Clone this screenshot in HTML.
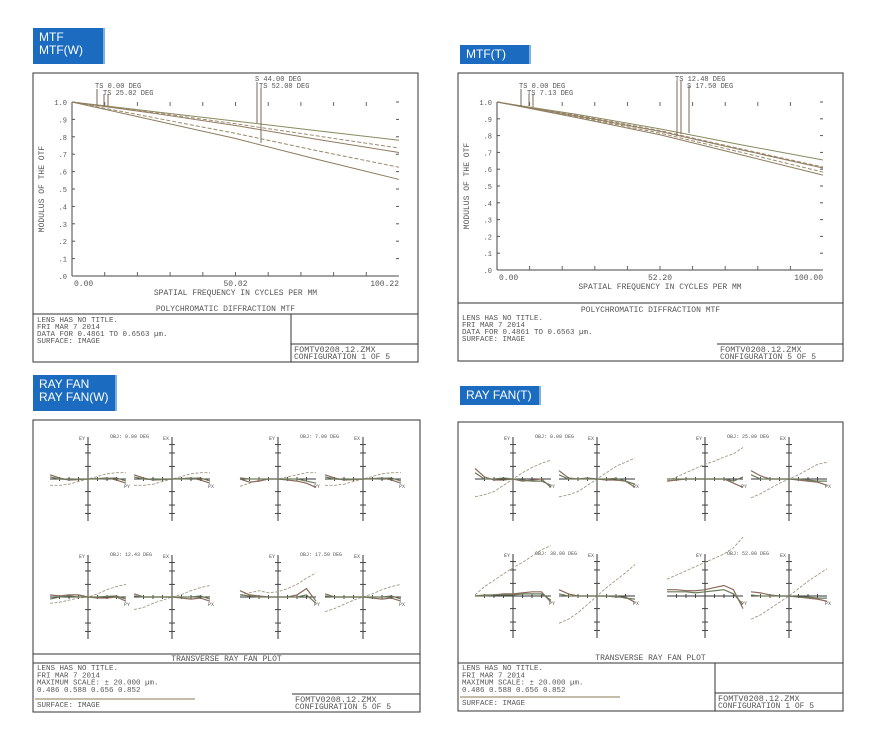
<!DOCTYPE html>
<html><head><meta charset="utf-8">
<style>
html,body{margin:0;padding:0;background:#fff;}
body{width:892px;height:735px;position:relative;overflow:hidden;font-family:"Liberation Sans",sans-serif;}
.lbl{position:absolute;background:#1b6cc0;color:#fff;font-size:12px;line-height:13px;padding:3px 6px;box-sizing:border-box;border-right:2px solid #7fb0e0;}
svg{position:absolute;left:0;top:0;}
svg text{font-family:"Liberation Mono",monospace;fill:#555;}
</style></head>
<body>
<div class="lbl" style="left:33px;top:28px;width:72px;height:36px;">MTF<br>MTF(W)</div>
<div class="lbl" style="left:460px;top:45px;width:71px;height:19px;">MTF(T)</div>
<div class="lbl" style="left:33px;top:375px;width:84px;height:36px;">RAY FAN<br>RAY FAN(W)</div>
<div class="lbl" style="left:460px;top:386px;width:81px;height:19px;">RAY FAN(T)</div>
<svg id="s" width="892" height="735"></svg>
<script>
// ---- MTF data (frequency samples, values) ----
const mtfFreq = [0, 25, 50, 75, 100];
const mtfW1 = [1.0, 0.945, 0.89, 0.835, 0.78];
const mtfW2 = [1.0, 0.94, 0.875, 0.805, 0.735];
const mtfW3 = [1.0, 0.935, 0.865, 0.785, 0.71];
const mtfW4 = [1.0, 0.91, 0.82, 0.72, 0.625];
const mtfW5 = [1.0, 0.895, 0.79, 0.67, 0.555];
const mtfT1 = [1.0, 0.925, 0.84, 0.745, 0.655];
const mtfT2 = [1.0, 0.92, 0.83, 0.72, 0.613];
const mtfT3 = [1.0, 0.915, 0.825, 0.715, 0.607];
const mtfT4 = [1.0, 0.91, 0.815, 0.70, 0.583];
const mtfT5 = [1.0, 0.905, 0.805, 0.685, 0.565];
const mtfYTicks = ["1.0",".9",".8",".7",".6",".5",".4",".3",".2",".1",".0"];
// ---- Ray fan data: pupil samples, and 3 series per sub-plot (fraction of half-scale) ----
const pupil = [-1, -0.75, -0.5, -0.25, 0, 0.25, 0.5, 0.75, 1];
const fanW1 = [[-0.3,-0.3,-0.25,-0.12,0,0.12,0.25,0.3,0.3],[0.2,0.05,-0.05,-0.03,0,0.02,0.05,-0.05,-0.2],[0.1,0,-0.03,0,0,0,0.03,0.05,-0.1]];
const fanW2 = [[-0.3,-0.3,-0.25,-0.12,0,0.12,0.25,0.3,0.3],[0.2,0.05,-0.05,-0.03,0,0.02,0.05,-0.05,-0.2],[0.1,0,-0.03,0,0,0,0.03,0.05,-0.1]];
const fanW3 = [[-0.35,-0.2,-0.05,0,0,0.1,0.2,0.3,0.3],[0,-0.15,-0.1,0,0,-0.05,-0.1,-0.2,-0.4],[0.05,0,0,0,0,0,0,-0.1,-0.2]];
const fanW4 = [[-0.3,-0.3,-0.25,-0.12,0,0.12,0.25,0.3,0.3],[0.2,0.05,-0.05,-0.03,0,0.02,0.05,-0.05,-0.2],[0.1,0,-0.03,0,0,0,0.03,0.05,-0.1]];
const fanW5 = [[-0.3,-0.25,-0.15,-0.05,0,0.15,0.35,0.5,0.6],[0.1,0.05,0.1,0.1,0,-0.05,-0.05,0,-0.2],[-0.1,0,0.05,0,0,0,0.03,0.05,-0.1]];
const fanW6 = [[-0.6,-0.5,-0.3,-0.15,0,0.12,0.3,0.45,0.55],[0.15,0,0,0,0,-0.05,-0.1,-0.05,-0.2],[0.05,0,0,0,0,0,0,0.05,-0.1]];
const fanW7 = [[0.1,0.2,0.3,0.2,0.25,0.4,0.6,0.9,1.15],[0.3,0.1,0.05,0,0,0,0.1,0.4,-0.2],[0.1,0.05,0,0,0,0,0,0.1,-0.3]];
const fanW8 = [[-0.7,-0.55,-0.35,-0.15,0,0.15,0.35,0.5,0.6],[0.15,0,0,0,0,-0.05,-0.1,-0.05,-0.2],[0.05,0,0,0,0,0,0,0.05,-0.1]];
const fanT1 = [[-0.85,-0.75,-0.6,-0.3,0,0.3,0.55,0.75,0.9],[0.5,0.1,-0.05,-0.05,0,-0.1,-0.05,0,-0.4],[0.3,0,0,0.05,0,-0.05,-0.1,-0.1,-0.3]];
const fanT2 = [[-0.85,-0.75,-0.6,-0.3,0,0.3,0.6,0.8,1.0],[0.4,0.05,0,0.05,0,-0.05,-0.05,-0.1,-0.4],[0.2,0,0,0,0,0,0.03,-0.1,-0.25]];
const fanT3 = [[-0.1,0.1,0.3,0.5,0.7,0.85,1.05,1.2,1.5],[-0.1,-0.05,0,0,0,0,0,-0.2,-0.4],[0,0,0,0,0,0,0,-0.1,0.1]];
const fanT4 = [[-0.9,-0.7,-0.45,-0.2,0,0.2,0.45,0.7,0.8],[0.4,0.15,0,0,0,-0.05,-0.1,-0.15,-0.3],[0.2,0,0,0,0,0,-0.05,-0.1,-0.1]];
const fanT5 = [[0.05,0.45,0.75,1.05,1.35,1.6,1.9,2.2,2.4],[0,0.05,0.05,0.1,0.1,0.15,0.2,0.2,-0.3],[0,0,0.05,0.05,0.05,0.1,0.1,0.1,-0.2]];
const fanT6 = [[-1.3,-1.1,-0.8,-0.4,0,0.4,0.75,1.1,1.5],[0.3,0.1,0,0,0,0,-0.05,-0.05,-0.3],[0.1,0,0,0,0,0,0,-0.1,-0.15]];
const fanT7 = [[0.8,1.0,1.2,1.4,1.6,1.8,2.0,2.3,2.8],[0.3,0.3,0.25,0.25,0.3,0.4,0.5,0.3,-0.6],[0.2,0.2,0.2,0.15,0.2,0.25,0.3,0.1,-0.4]];
const fanT8 = [[-1.1,-0.9,-0.6,-0.3,0,0.35,0.7,1.0,1.3],[0.2,0.15,0.05,0,0,-0.05,-0.1,-0.15,-0.25],[0.05,0,0,0,0,-0.05,-0.05,-0.1,-0.1]];

const S = document.getElementById('s');
const NS = 'http://www.w3.org/2000/svg';
function mk(tag, attrs, parent){ const e=document.createElementNS(NS,tag); for(const k in attrs) e.setAttribute(k,attrs[k]); (parent||S).appendChild(e); return e; }
function ln(x1,y1,x2,y2,c,w){ return mk('line',{x1,y1,x2,y2,stroke:c||'#333','stroke-width':w||1}); }
function tx(x,y,t,size,anchor,col){ const e=mk('text',{x,y,'font-size':size||7,'text-anchor':anchor||'start'}); if(col) e.setAttribute('fill',col); e.textContent=t; return e; }

function frame(x1,y1,x2,y2){ const r=mk('rect',{x:x1,y:y1,width:x2-x1,height:y2-y1,fill:'none',stroke:'#333','stroke-width':1});

 }

function mtfPanel(o){
  frame(o.fx1,o.fy1,o.fx2,o.fy2);
  const xS = f => o.px1 + (f/100)*(o.px2-o.px1);
  const yS = v => o.py0 - v*(o.py0-o.py1);
  ln(o.px1,o.py1,o.px1,o.py0,'#444'); ln(o.px1,o.py0,o.px2,o.py0,'#444');
  mtfYTicks.forEach((t,i)=>{ const v=1-i*0.1; const y=yS(v);
    tx(o.px1-5,y+3,t,7,'end');
    ln(o.px1,y,o.px1+3,y,'#555'); ln(o.px2-3,y,o.px2,y,'#555'); });
  for(let i=1;i<10;i++){ const x=xS(i*10); ln(x,o.py0,x,o.py0-4,'#666'); ln(x,o.py1,x,o.py1+4,'#666'); }
  tx(o.px1+2,o.py0+10,o.t0,8); tx((o.px1+o.px2)/2,o.py0+10,o.tm,8,'middle'); tx(o.px2,o.py0+10,o.te,8,'end');
  tx((o.px1+o.px2)/2,o.py0+19,o.xlabel,8,'middle');
  const yt=tx(0,0,'MODULUS OF THE OTF',8,'middle'); yt.setAttribute('transform',`translate(${o.fx1+11},${(o.py0+o.py1)/2}) rotate(-90)`);
  const cols=['#8a8a60','#a08a70','#907a60','#9a8a6a','#8c7c5c'];
  o.series.forEach((arr,si)=>{
    const pts = arr.map((v,i)=>xS(mtfFreq[i])+','+yS(v)).join(' ');
    const p=mk('polyline',{points:pts,fill:'none',stroke:cols[si],'stroke-width':1,'stroke-dasharray':si%2?'4,2':'none'});
    
    
  });
  o.markers.forEach(m=>{ ln(m.x,m.y1,m.x,m.y2,'#7a6a5a'); });
  o.mlabels.forEach(m=>tx(m.x,m.y,m.t,7));
  ln(o.fx1,o.div,o.fx2,o.div,'#333');
  tx((o.fx1+o.fx2)/2,o.titleY,'POLYCHROMATIC DIFFRACTION MTF',8,'middle');
  o.info.forEach((t,i)=>tx(o.fx1+4,o.infoY+i*7,t,7.5));
  if(o.boxV) ln(o.boxX,o.div,o.boxX,o.fy2,'#333');
  ln(o.boxX,o.boxLineY,o.fx2,o.boxLineY,'#333');
  tx(o.boxX+3,o.boxLineY+8,o.file,8.5); tx(o.boxX+3,o.boxLineY+15,o.conf,8);
}
mtfPanel({fx1:33,fy1:73,fx2:418,fy2:362,px1:72,px2:399,py1:102,py0:276,
  t0:'0.00',tm:'50.02',te:'100.22',xlabel:'SPATIAL FREQUENCY IN CYCLES PER MM',
  series:[mtfW1,mtfW2,mtfW3,mtfW4,mtfW5],
  markers:[{x:97,y1:89,y2:105},{x:104,y1:94,y2:106},{x:108,y1:94,y2:107},{x:257,y1:82,y2:123},{x:261,y1:88,y2:143}],
  mlabels:[{x:95,y:88,t:'TS 0.00 DEG'},{x:103,y:95,t:'TS 25.02 DEG'},{x:255,y:81,t:'S 44.00 DEG'},{x:259,y:88,t:'TS 52.00 DEG'}],
  div:314,titleY:311,infoY:322,info:['LENS HAS NO TITLE.','FRI MAR 7 2014','DATA FOR 0.4861 TO 0.6563 \u00b5m.','SURFACE: IMAGE'],
  boxV:true,boxX:291,boxLineY:344,file:'FOMTV0208.12.ZMX',conf:'CONFIGURATION 1 OF 5'});
mtfPanel({fx1:458,fy1:73,fx2:843,fy2:361,px1:497,px2:823,py1:102,py0:270,
  t0:'0.00',tm:'52.20',te:'100.00',xlabel:'SPATIAL FREQUENCY IN CYCLES PER MM',
  series:[mtfT1,mtfT2,mtfT3,mtfT4,mtfT5],
  markers:[{x:521,y1:89,y2:106},{x:529,y1:94,y2:106},{x:533,y1:94,y2:107},{x:677,y1:81,y2:136},{x:681,y1:81,y2:134},{x:689,y1:86,y2:133}],
  mlabels:[{x:519,y:88,t:'TS 0.00 DEG'},{x:527,y:95,t:'TS 7.13 DEG'},{x:675,y:81,t:'TS 12.48 DEG'},{x:687,y:88,t:'S 17.50 DEG'}],
  div:303,titleY:312,infoY:320,info:['LENS HAS NO TITLE.','FRI MAR 7 2014','DATA FOR 0.4861 TO 0.6563 \u00b5m.','SURFACE: IMAGE'],
  boxV:false,boxX:717,boxLineY:344,file:'FOMTV0208.12.ZMX',conf:'CONFIGURATION 5 OF 5'});

function subFan(cx,cy,hw,vh,data,label,title){
  const xS = p => cx + p*hw;
  const yS = v => cy - v*vh*0.5;
  ln(cx-hw,cy,cx+hw,cy,'#333'); ln(cx,cy-vh,cx,cy+vh,'#333');
  [-0.82,-0.62,-0.3,0.3,0.62,0.82].forEach(f=>{ ln(cx-3,cy+f*vh,cx+3,cy+f*vh,'#444'); });
  [-0.75,-0.5,-0.25,0.25,0.5,0.75].forEach(f=>{ ln(cx+f*hw,cy-2,cx+f*hw,cy+2,'#444'); });
  tx(cx-3,cy-vh+3,label[0],5,'end'); tx(cx+hw-2,cy+9,label[1],5);
  if(title) tx(cx+22,cy-vh+1,title,5);
  const cols=['#a09a80','#8a6a5a','#6a7a5a'];
  data.forEach((arr,si)=>{
    const pts=arr.map((v,i)=>xS(pupil[i])+','+yS(v)).join(' ');
    const p=mk('polyline',{points:pts,fill:'none',stroke:cols[si],'stroke-width':si?1.2:0.9,'stroke-dasharray':si?'none':'3,1.5'});
    
    
  });
}
function fanPanel(o){
  frame(o.fx1,o.fy1,o.fx2,o.fy2);
  o.subs.forEach(s=>subFan(s[0],s[1],s[2],42,s[3],s[4],s[5]));
  ln(o.fx1,o.d1,o.fx2,o.d1,'#333'); if(o.d2) ln(o.fx1,o.d2,o.fx2,o.d2,'#333');
  tx((o.fx1+o.fx2)/2,o.titleY,o.title,8,'middle');
  o.info.forEach((t,i)=>tx(o.fx1+4,o.infoY+i*7.3,t,7.5,'start',i==3?'#8a7a40':null));
  ln(o.fx1+2,o.ulY,o.ulX,o.ulY,'#8a7a50');
  tx(o.fx1+4,o.ulY+8,'SURFACE: IMAGE',7.5);
  if(o.boxV) ln(o.boxX,o.boxV,o.boxX,o.fy2,'#333');
  ln(o.boxX,o.boxLineY,o.fx2,o.boxLineY,'#333');
  tx(o.boxX+3,o.boxLineY+8,o.file,8.5); tx(o.boxX+3,o.boxLineY+15,o.conf,8);
}
fanPanel({fx1:33,fy1:420,fx2:420,fy2:712,
  subs:[[88,479,38,fanW1,['EY','PY'],'OBJ: 0.00 DEG'],[172,479,38,fanW2,['EX','PX']],
        [278,479,38,fanW3,['EY','PY'],'OBJ: 7.00 DEG'],[363,479,38,fanW4,['EX','PX']],
        [88,597,38,fanW5,['EY','PY'],'OBJ: 12.43 DEG'],[172,597,38,fanW6,['EX','PX']],
        [278,597,38,fanW7,['EY','PY'],'OBJ: 17.50 DEG'],[363,597,38,fanW8,['EX','PX']]],
  d1:654,d2:663,titleY:661,title:'TRANSVERSE RAY FAN PLOT',
  infoY:670,info:['LENS HAS NO TITLE.','FRI MAR 7 2014','MAXIMUM SCALE: \u00b1 20.000 \u00b5m.','0.486  0.588  0.656  0.852'],
  ulY:699,ulX:195,boxV:0,boxX:292,boxLineY:694,file:'FOMTV0208.12.ZMX',conf:'CONFIGURATION 5 OF 5'});
fanPanel({fx1:458,fy1:422,fx2:843,fy2:711,
  subs:[[513,479,38,fanT1,['EY','PY'],'OBJ: 0.00 DEG'],[597,479,38,fanT2,['EX','PX']],
        [705,479,38,fanT3,['EY','PY'],'OBJ: 25.00 DEG'],[789,479,38,fanT4,['EX','PX']],
        [513,596,38,fanT5,['EY','PY'],'OBJ: 38.00 DEG'],[597,596,38,fanT6,['EX','PX']],
        [705,596,38,fanT7,['EY','PY'],'OBJ: 52.00 DEG'],[789,596,38,fanT8,['EX','PX']]],
  d1:663,d2:0,titleY:660,title:'TRANSVERSE RAY FAN PLOT',
  infoY:670,info:['LENS HAS NO TITLE.','FRI MAR 7 2014','MAXIMUM SCALE: \u00b1 20.000 \u00b5m.','0.486  0.588  0.656  0.852'],
  ulY:697,ulX:620,boxV:663,boxX:715,boxLineY:693,file:'FOMTV0208.12.ZMX',conf:'CONFIGURATION 1 OF 5'});
</script>
</body></html>
